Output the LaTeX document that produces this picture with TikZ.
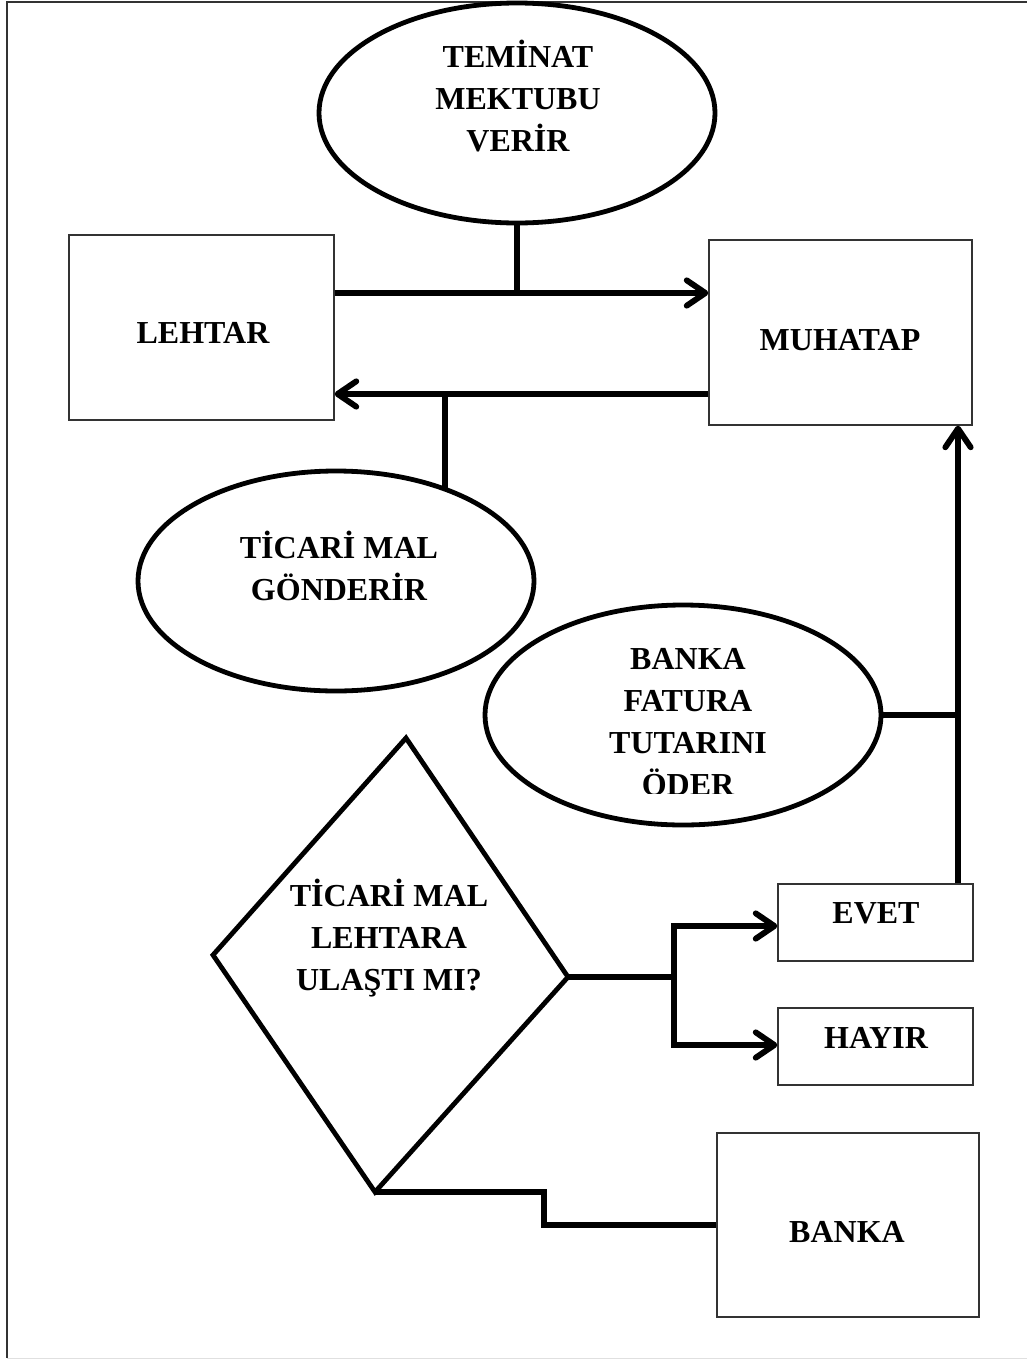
\documentclass[tikz,border=0pt]{standalone}
\usepackage{fontspec}
\setmainfont{Liberation Serif}
\usetikzlibrary{arrows.meta,fit,shapes.geometric}

% centred block of lines, each line carrying a strut
\newcommand{\rows}[1]{\begin{tabular}{@{}c@{}}#1\end{tabular}}

\tikzset{
  lbl/.style={inner sep=0pt, font=\fontsize{24}{31.7}\selectfont\bfseries},
  oval/.style={ellipse, draw, line width=3.6pt, inner sep=0pt,
               minimum width=297pt, minimum height=165pt},
  box/.style={rectangle, draw=black!80, line width=1pt, inner sep=0pt},
  conn/.style={line width=4.4pt, line join=miter},
  barb/.tip={Straight Barb[length=14pt, width=19pt, round]},
  dia/.style={line width=3.6pt, line join=miter}
}

\begin{document}
\begin{tikzpicture}[x=0.75pt, y=-0.75pt]
\useasboundingbox (0,0) rectangle (1027,1360);

% page frame
\draw[line width=1.6pt, black!80] (1027,2) -- (7,2) -- (7,1358);
\draw[line width=1pt, black!12] (7,1358.5) -- (1027,1358.5);

% ovals
\node[oval] (tem) at (517,113) {};
\node[lbl] (temt) at (518,101) {\rows{TEMİNAT\\MEKTUBU\\VERİR}};

\node[oval] (tic) at (336,581) {};
\node[lbl] (tict) at (339,571) {\rows{TİCARİ MAL\\GÖNDERİR}};

\node[oval] (bnk) at (683,715) {};
\begin{scope}
  \clip (480,600) rectangle (890,793);
  \node[lbl] (bnkt) at (688,724) {\rows{BANKA\\FATURA\\TUTARINI\\ÖDER}};
\end{scope}

% boxes
\node[box, fit={(69,235) (334,420)}] (leh) {};
\node[lbl] (leht) at (203,335) {\rows{LEHTAR}};

\node[box, fit={(709,240) (972,425)}] (muh) {};
\node[lbl] (muht) at (840,342) {\rows{MUHATAP}};

\node[box, fit={(778,884) (973,961)}] (evet) {};
\node[lbl] (evett) at (876,915) {\rows{EVET}};

\node[box, fit={(778,1008) (973,1085)}] (hay) {};
\node[lbl] (hayt) at (876,1040) {\rows{HAYIR}};

\node[box, fit={(717,1133) (979,1317)}] (bank) {};
\node[lbl] (bankt) at (847,1234) {\rows{BANKA}};

% decision
\coordinate (dt) at (406,738);
\coordinate (dr) at (568,977);
\coordinate (db) at (375,1192);
\coordinate (dl) at (213,955);
\draw[dia] (dt) -- (dr) -- (db) -- (dl) -- cycle;
\node[lbl] (q) at (389,940) {\rows{TİCARİ MAL\\LEHTARA\\ULAŞTI MI?}};

% junction points
\coordinate (tj) at (517,293);
\coordinate (bj) at (445,394);
\coordinate (rj) at (958,715);
\coordinate (sj) at (674,977);
\coordinate (ej) at (674,926);
\coordinate (hj) at (674,1045);
\coordinate (kj) at (544,1192);

% LEHTAR -> MUHATAP
\draw[conn] (tem.south) -- (tj);
\draw[conn, -barb] (leh.east |- tj) -- (muh.west |- tj);

% MUHATAP -> LEHTAR
\draw[conn, -barb] (muh.west |- bj) -- (leh.east |- bj);
\draw[conn] (bj) -- (bj |- tic.40.5);

% bank payment up to MUHATAP
\draw[conn] (bnk.east) -- (rj);
\draw[conn, -barb] (evet.north -| rj) -- (muh.south -| rj);

% decision branches
\draw[conn] (dr) -- (sj);
\draw[conn, barb-barb] (evet.west |- ej) -| (hj) -- (hay.west |- hj);

% decision to BANKA
\draw[conn] (db) -- (kj) |- (bank.west);
\end{tikzpicture}
\end{document}
